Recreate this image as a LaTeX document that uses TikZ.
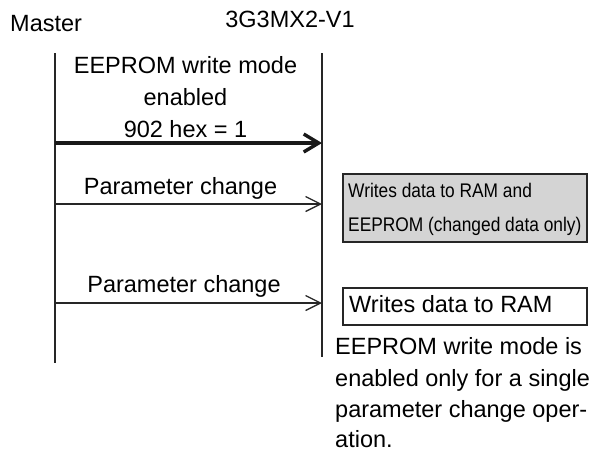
\documentclass[tikz,border=0pt]{standalone}
\usepackage{fontspec}
\setmainfont{Liberation Sans}
\newfontfamily\narrowfont[FakeStretch=0.88]{Liberation Sans}
\usetikzlibrary{arrows.meta}
\tikzset{
  txt/.style={inner sep=0pt, anchor=base, font=\fontsize{23.5}{32}\selectfont},
  ltxt/.style={txt, anchor=base west},
  ntxt/.style={inner sep=0pt, anchor=base west, font=\narrowfont\fontsize{19.7}{28}\selectfont},
  life/.style={line width=1.5pt, draw=black!85},
  msg/.style={line width=1.3pt, draw=black!85, -{Straight Barb[length=15pt,width=15pt,line width=1.3pt]}},
  bigmsg/.style={line width=3.4pt, draw=black!90, -{Straight Barb[length=15pt,width=18pt,line width=3.4pt]}},
  infobox/.style={line width=1.5pt, draw=black!85}
}
\begin{document}
\begin{tikzpicture}[x=1pt,y=-1pt]
\useasboundingbox (0,0) rectangle (592,451);
% headings
\node[ltxt] (master) at (10,31) {Master};
\node[txt] (slave) at (290,27) {3G3MX2-V1};
% lifelines
\coordinate (mtop) at (55,53);
\coordinate (mbot) at (55,363);
\coordinate (stop) at (322,53);
\coordinate (sbot) at (322,357);
\draw[life] (mtop) -- (mbot);
\draw[life] (stop) -- (sbot);
% message 1
\node[txt] (l1a) at (185.5,73) {EEPROM write mode};
\node[txt] (l1b) at (185.5,105) {enabled};
\node[txt] (l1c) at (185.5,137) {902 hex = 1};
\coordinate (m1) at (55,143);
\coordinate (s1) at (322,143);
\draw[bigmsg] (m1) -- (s1);
% message 2
\node[txt] (l2) at (180.5,194) {Parameter change};
\coordinate (m2) at (55,204);
\coordinate (s2) at (322,204);
\draw[msg] (m2) -- (s2);
% message 3
\node[txt] (l3) at (184,292) {Parameter change};
\coordinate (m3) at (55,303);
\coordinate (s3) at (322,303);
\draw[msg] (m3) -- (s3);
% gray box
\draw[infobox, fill=black!17] (343,174) rectangle (587,242);
\node[ntxt] (g1) at (348,197) {Writes data to RAM and};
\node[ntxt] (g2) at (348,231) {EEPROM (changed data only)};
% white box
\draw[infobox, fill=white] (343,288) rectangle (587,325);
\node[ltxt] (w1) at (349,312) {Writes data to RAM};
% note
\node[ltxt] (n1) at (335,354) {EEPROM write mode is};
\node[ltxt] (n2) at (335,386) {enabled only for a single};
\node[ltxt] (n3) at (335,417) {parameter change oper-};
\node[ltxt] (n4) at (335,447.5) {ation.};
\end{tikzpicture}
\end{document}
